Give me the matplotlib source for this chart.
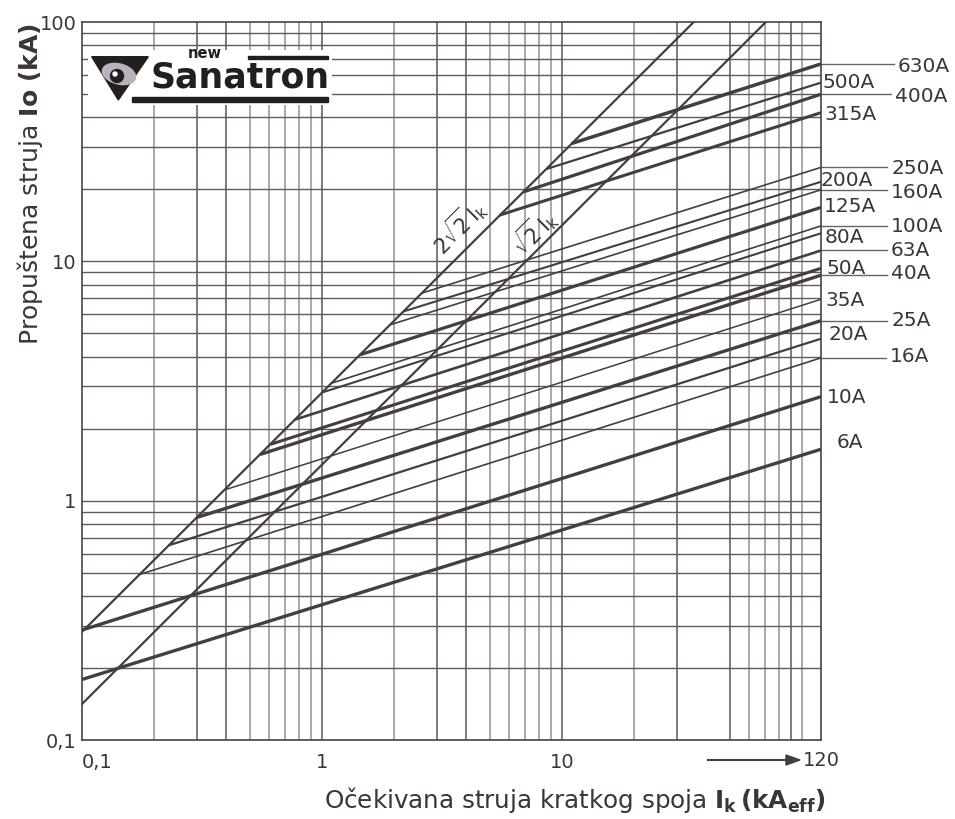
import numpy as np
import matplotlib.pyplot as plt
from matplotlib.patches import Polygon, Rectangle, Ellipse, Circle
from matplotlib.ticker import NullLocator

# fuse ratings and their cut-off lines (Ik in kA_eff, Io in kA)
ratings = ['6A', '10A', '16A', '20A', '25A', '35A', '40A', '50A', '63A', '80A',
           '100A', '125A', '160A', '200A', '250A', '315A', '400A', '500A', '630A']
ik_start = [0.1, 0.1, 0.172, 0.229, 0.30, 0.394, 0.552, 0.61, 0.77, 1.0,
            1.1, 1.44, 1.92, 2.18, 2.6, 5.5, 6.9, 8.6, 11.0]
io_start = [0.179, 0.288, 0.49, 0.65, 0.85, 1.11, 1.56, 1.72, 2.18, 2.83,
            3.1, 4.07, 5.43, 6.17, 7.36, 15.6, 19.5, 24.3, 31.1]
ik_end = 120
io_end = [1.64, 2.72, 3.95, 4.75, 5.65, 6.94, 8.75, 9.35, 11.1, 13.1,
          14.06, 16.8, 19.9, 21.5, 24.7, 41.8, 49.9, 55.8, 66.8]

# 2*sqrt(2)*Ik and sqrt(2)*Ik reference lines
peak_ik = [0.1, 35.4]
peak_io = [0.283, 100]
rms_ik = [0.1, 70.7]
rms_io = [0.1414, 100]

xtick_vals = [0.1, 1, 10]
xtick_labels = ['0,1', '1', '10']
ytick_vals = [0.1, 1, 10, 100]
ytick_labels = ['0,1', '1', '10', '100']

# line widths per rating
widths = [2.4, 2.4, 1.2, 1.6, 2.4, 1.1, 2.4, 2.2, 1.9, 1.5,
          1.2, 2.3, 1.2, 1.5, 1.2, 2.2, 2.3, 1.6, 2.5]

# label layout (pixel positions), True = label far right with a leader line
label_pos = {
    '630A': (898, 66, True), '500A': (822, 83, False), '400A': (895, 97, True),
    '315A': (824, 115, False), '250A': (891, 168, True), '200A': (820, 180, False),
    '160A': (891, 192, True), '125A': (824, 207, False), '100A': (891, 226, True),
    '80A': (825, 237, False), '63A': (891, 251, True), '50A': (826, 268, False),
    '40A': (891, 274, True), '35A': (825, 300, False), '25A': (891, 321, True),
    '20A': (828, 335, False), '16A': (890, 357, True), '10A': (827, 397, False),
    '6A': (837, 442, False),
}

W, H = 955, 819
def fx(px):
    return px / W
def fy(py):
    return 1 - py / H

plt.rcParams['font.family'] = 'DejaVu Sans'
plt.rcParams['mathtext.fontset'] = 'dejavusans'
line_col = '#463e3e'
text_col = '#3d3535'

fig = plt.figure(figsize=(9.55, 8.19), dpi=100)
ax = fig.add_axes([fx(82), fy(740), 739 / W, 718 / H])
ax.set_xscale('log')
ax.set_yscale('log')
ax.set_xlim(0.1, 120)
ax.set_ylim(0.1, 100)

# grid
xgrid_dark = [0.3, 0.4, 1, 3, 4, 10, 30, 50, 90]
xgrid_light = [0.2, 0.5, 0.6, 0.7, 0.8, 0.9, 2, 5, 6, 7, 8, 9, 20, 60, 70, 80, 100]
for v in xgrid_dark:
    ax.axvline(v, color='#5e5656', lw=1.1, zorder=1)
for v in xgrid_light:
    ax.axvline(v, color='#a09a9a', lw=1.2, zorder=1)
for dec in [0.1, 1, 10]:
    for m in range(1, 10):
        ax.axhline(dec * m, color='#625a5a', lw=1.0, zorder=1)

# fuse lines
for i in range(len(ratings)):
    ax.plot([ik_start[i], ik_end], [io_start[i], io_end[i]], color=line_col,
            lw=widths[i], solid_capstyle='butt', zorder=3)
ax.plot(peak_ik, peak_io, color=line_col, lw=1.6, zorder=3)
ax.plot(rms_ik, rms_io, color=line_col, lw=1.6, zorder=3)

ax.text(3.69, 14.06, r'$2\sqrt{2}\,\mathrm{I}_\mathrm{k}$', rotation=45,
        ha='center', va='center', fontsize=15, color=text_col, zorder=4)
ax.text(7.64, 13.27, r'$\sqrt{2}\,\mathrm{I}_\mathrm{k}$', rotation=45,
        ha='center', va='center', fontsize=15, color=text_col, zorder=4)

for spine in ax.spines.values():
    spine.set_color('#4b4343')
    spine.set_linewidth(1.2)

ax.set_xticks(xtick_vals, xtick_labels)
ax.set_yticks(ytick_vals, ytick_labels)
ax.xaxis.set_minor_locator(NullLocator())
ax.yaxis.set_minor_locator(NullLocator())
ax.tick_params(axis='x', length=0, pad=9, labelsize=14, labelcolor=text_col)
ax.tick_params(axis='y', length=0, pad=4, labelsize=14, labelcolor=text_col)
ax.get_xticklabels()[0].set_horizontalalignment('left')

# rating labels
for i, name in enumerate(ratings):
    px, py, leader = label_pos[name]
    if leader:
        ax.plot([ik_end, ik_end * 10 ** ((px - 4 - 821) / 240)], [io_end[i], io_end[i]],
                color='#6b6363', lw=1.0, clip_on=False, zorder=2)
    fig.text(fx(px), fy(py), name, ha='left', va='center', fontsize=14.5,
             color=text_col)

# axis titles
fig.text(fx(826), fy(800),
         r'Očekivana struja kratkog spoja $\mathbf{I}_\mathbf{k}\,\mathbf{(kA}_\mathbf{eff}\mathbf{)}$',
         ha='right', va='center', fontsize=17.7, color=text_col)
fig.text(fx(30), fy(345), r'Propuštena struja $\mathbf{Io\ (kA)}$', rotation=90,
         ha='center', va='bottom', fontsize=18, color=text_col)

# arrow to 120
fig.add_artist(plt.Line2D([fx(708), fx(788)], [fy(760), fy(760)],
                          color=line_col, lw=1.5))
fig.add_artist(Polygon([(fx(786), fy(755)), (fx(800), fy(760)), (fx(786), fy(765))],
                       closed=True, color=line_col, transform=fig.transFigure))
fig.text(fx(803), fy(761), '120', ha='left', va='center', fontsize=14, color=text_col)

# logo
lax = fig.add_axes([fx(88), fy(105), 244 / W, 55 / H])
lax.set_xlim(0, 244)
lax.set_ylim(0, 55)
lax.axis('off')
lax.add_patch(Rectangle((0, 0), 244, 55, color='white'))
lax.add_patch(Polygon([(3.7, 48.3), (60.3, 48.3), (30.3, 5)], color='#231f20'))
lax.add_patch(Ellipse((31, 31), 34, 20, angle=-15, color='#b7b2bb'))
lax.add_patch(Circle((29, 29), 6.5, color='#231f20'))
lax.add_patch(Circle((27, 31), 2.0, color='white'))
lax.text(62, 17.7, 'Sanatron', fontsize=25, fontweight='bold', ha='left',
         va='baseline', color='#231f20')
lax.text(100, 46.5, 'new', fontsize=10.5, fontweight='bold', ha='left',
         va='baseline', color='#231f20')
lax.add_patch(Rectangle((43.7, 3.3), 196.3, 5, color='#231f20'))
lax.add_patch(Rectangle((160, 46), 80, 3.3, color='#231f20'))

fig.savefig('out.png', dpi=100)
